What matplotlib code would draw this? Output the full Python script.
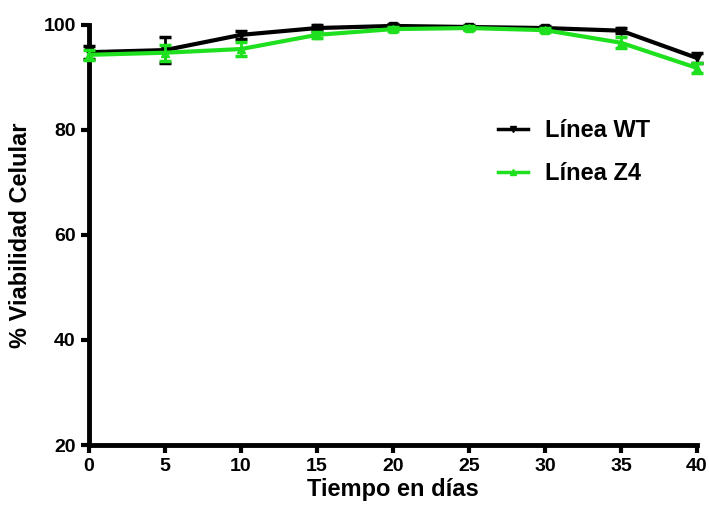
import matplotlib
matplotlib.use("Agg")
import matplotlib.pyplot as plt
from matplotlib.lines import Line2D

plt.rcParams['font.family'] = ['Liberation Sans', 'DejaVu Sans']
plt.rcParams['font.weight'] = 'bold'

days = [0, 5, 10, 15, 20, 25, 30, 35, 40]
wt_mean = [94.8, 95.2, 98.1, 99.4, 99.8, 99.6, 99.4, 98.9, 93.7]
wt_err = [1.2, 2.5, 0.8, 0.5, 0.4, 0.4, 0.4, 0.5, 1.0]
z4_mean = [94.3, 94.7, 95.4, 98.1, 99.2, 99.4, 99.0, 96.6, 91.8]
z4_err = [1.0, 1.5, 1.3, 0.6, 0.4, 0.4, 0.4, 1.0, 1.0]
xticks = [0, 5, 10, 15, 20, 25, 30, 35, 40]
yticks = [20, 40, 60, 80, 100]
green = '#1ee01e'

fig = plt.figure(figsize=(7.09, 5.08), dpi=100)
ax = fig.add_axes([0.1255, 0.124, 0.8575, 0.827])

ax.errorbar(days, wt_mean, yerr=wt_err, color='black', marker='v', markersize=6,
            linewidth=3, elinewidth=2, capsize=4, capthick=2.5, zorder=3, clip_on=False)
ax.errorbar(days, z4_mean, yerr=z4_err, color=green, marker='^', markersize=6,
            linewidth=3, elinewidth=2, capsize=4, capthick=2.5, zorder=4, clip_on=False)

ax.set_xlim(0, 40)
ax.set_ylim(20, 100)
ax.set_xticks(xticks)
ax.set_yticks(yticks)
for s in ['top', 'right']:
    ax.spines[s].set_visible(False)
for s in ['left', 'bottom']:
    ax.spines[s].set_linewidth(3.5)
ax.tick_params(width=3, length=6, labelsize=14)
for lab in ax.get_xticklabels() + ax.get_yticklabels():
    lab.set_fontweight('bold')
ax.set_xlabel('Tiempo en días', fontsize=17, fontweight='bold', labelpad=2)
ax.set_ylabel('% Viabilidad Celular', fontsize=17, fontweight='bold', labelpad=8)

handles = [Line2D([0], [0], color='black', marker='v', markersize=5, linewidth=2.5),
           Line2D([0], [0], color=green, marker='^', markersize=5, linewidth=2.5)]
leg = ax.legend(handles, ['Línea WT', 'Línea Z4'], loc='upper left',
                bbox_to_anchor=(0.637, 0.826), frameon=False,
                fontsize=17, handlelength=1.3, handletextpad=0.7, labelspacing=0.85)
for t in leg.get_texts():
    t.set_fontweight('bold')

fig.savefig('out.png', dpi=100)
